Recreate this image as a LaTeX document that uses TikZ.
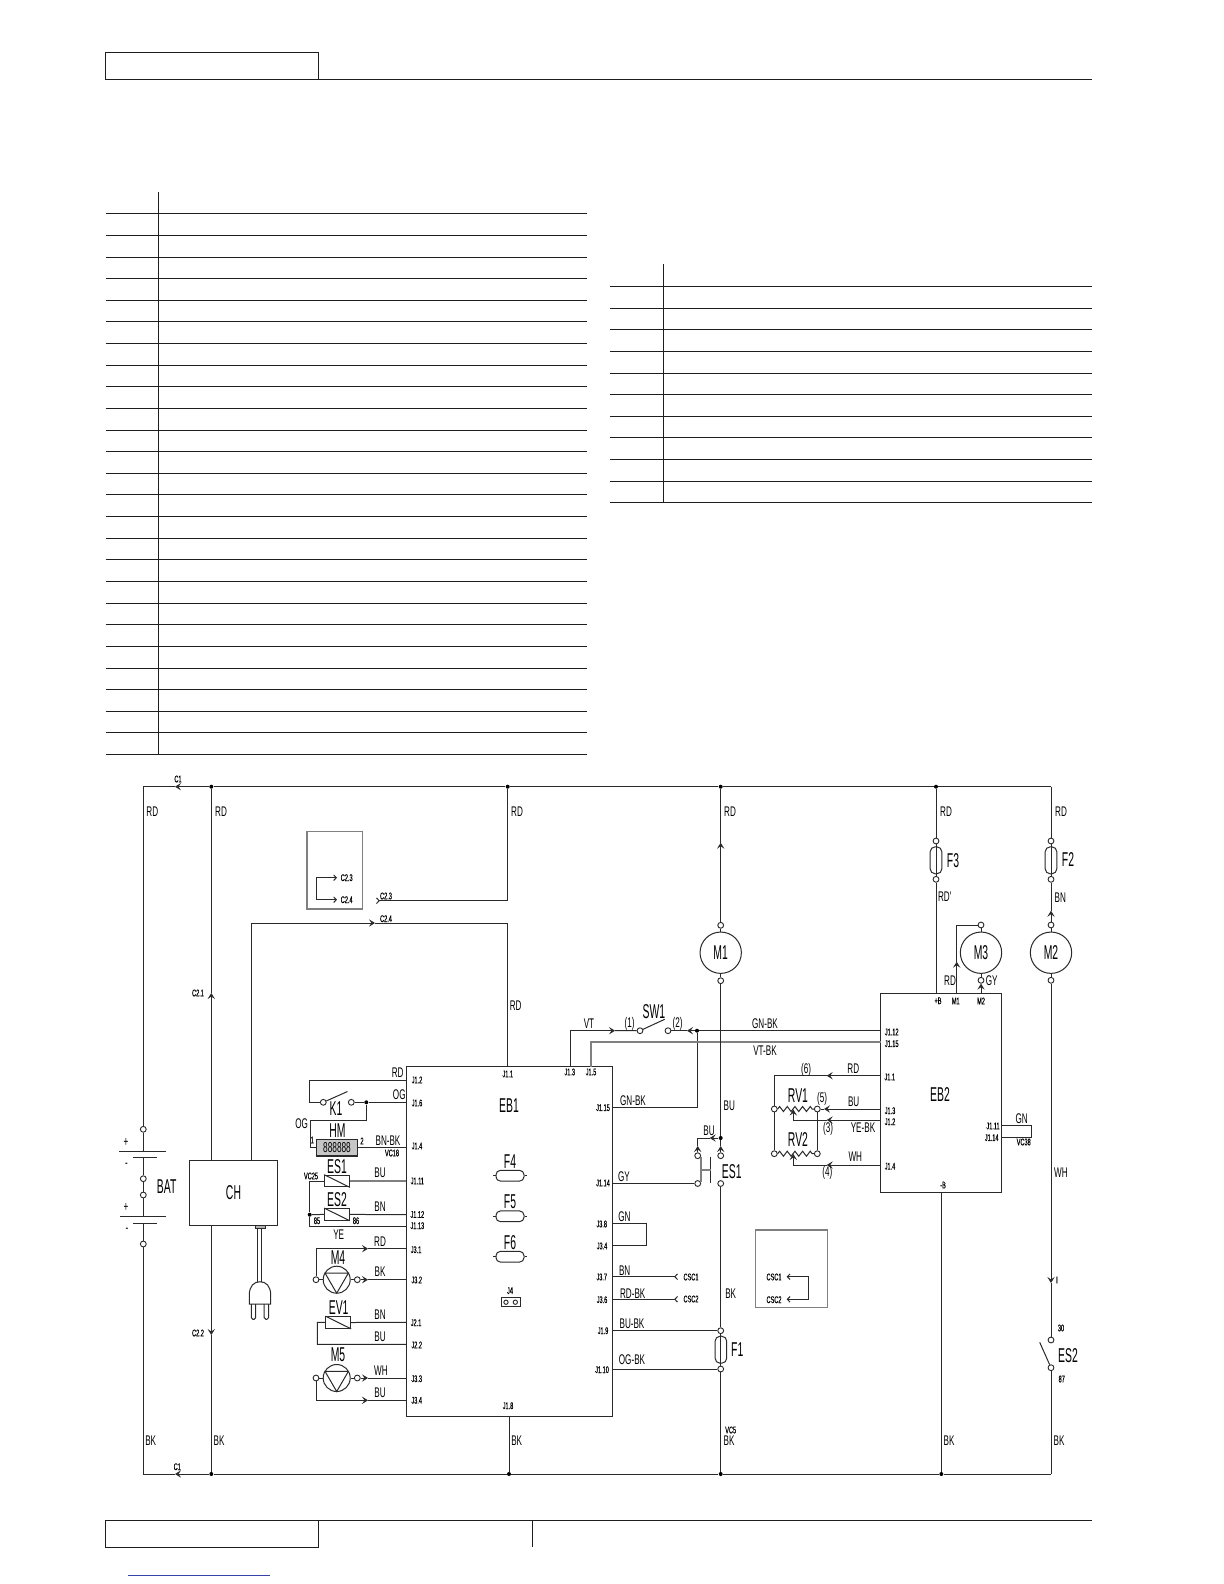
\documentclass[tikz,border=0pt]{standalone}
\usepackage{fontspec}
\newfontfamily\cadfont[FakeStretch=0.58]{Liberation Sans}
\newfontfamily\bigfont[FakeStretch=0.52]{Liberation Sans}
\newfontfamily\pinfont[FakeStretch=0.58,FakeBold=0.5]{Liberation Sans}
\usetikzlibrary{arrows.meta,shapes.misc,decorations.pathmorphing}
\definecolor{inkcol}{HTML}{1E1E1E}
\definecolor{wirecol}{HTML}{2A2A2A}
\definecolor{linkcol}{HTML}{3344AA}
\tikzset{
    rule/.style={draw=inkcol, line width=0.75pt},
    wire/.style={draw=wirecol, line width=0.6pt},
    gwire/.style={draw=gray, line width=0.8pt},
    arr/.style={-{Stealth[length=3.6pt,width=4.4pt,inset=1.5pt]}},
    oarr/.style={-{Straight Barb[length=1.6pt,width=3.4pt]}},
    rarr/.style={-{Straight Barb[reversed,length=1.6pt,width=3.4pt]}},
    term/.style={circle, draw=wirecol, fill=white, line width=0.55pt, inner sep=0pt, minimum size=3.5pt},
    junc/.style={circle, fill=black, inner sep=0pt, minimum size=2.4pt},
    lab/.style={font=\cadfont\fontsize{8.4}{9}\selectfont, inner sep=0pt},
    biglab/.style={font=\bigfont\fontsize{12}{13}\selectfont, inner sep=0pt},
    pinlab/.style={font=\pinfont\fontsize{5.8}{6}\selectfont, inner sep=0pt},
    motor/.style={circle, draw=wirecol, line width=0.6pt, inner sep=0pt, minimum size=24.8pt, biglab},
    pump/.style={circle, draw=wirecol, line width=0.6pt, inner sep=0pt, minimum size=16.2pt},
    coil/.style={rectangle, draw=wirecol, line width=0.6pt, inner sep=0pt, minimum width=14.8pt, minimum height=7pt},
    fuseh/.style={rectangle, rounded corners=2.6pt, draw=wirecol, line width=0.6pt, inner sep=0pt, minimum width=16.8pt, minimum height=6.4pt},
    fusev/.style={rectangle, rounded corners=3pt, draw=wirecol, line width=0.6pt, inner sep=0pt, minimum width=7pt, minimum height=16.2pt},
    block/.style={rectangle, draw=wirecol, line width=0.6pt, inner sep=0pt},
    inset/.style={rectangle, draw=gray, line width=0.7pt, inner sep=0pt},
    resist/.style={wire, decorate, decoration={zigzag, segment length=4.6pt, amplitude=1.5pt}}
}

\begin{document}
\begin{tikzpicture}[x=0.6pt,y=-0.6pt]
    \useasboundingbox (0,0) rectangle (1224,1584);
    \fill[white] (0,0) rectangle (1224,1584);

    % page frame and empty tables
    \draw[rule] (105.5,52.5) rectangle (318.5,79.5);
    \draw[rule] (318.5,79.5) -- (1092,79.5);
    \draw[rule] (105.5,1520.5) rectangle (318.5,1547.5);
    \draw[rule] (318.5,1520.5) -- (1092,1520.5);
    \draw[rule] (532.5,1520.5) -- (532.5,1547);
    \draw[linkcol, line width=0.6pt] (128,1575.5) -- (270,1575.5);
    \draw[rule] (158.5,192) -- (158.5,754);
    \foreach \i in {0,...,25} {
        \pgfmathsetmacro\rowy{round(213.3+21.63*\i)+0.5}
        \draw[rule] (105.5,\rowy) -- (586.7,\rowy);
    }
    \draw[rule] (663.5,264) -- (663.5,502.3);
    \foreach \i in {0,...,10} {
        \pgfmathsetmacro\rowy{round(286+21.63*\i)+0.5}
        \draw[rule] (610,\rowy) -- (1092,\rowy);
    }

    % main blocks
    \node[block, minimum width=123.6pt, minimum height=210pt] (eb1) at (509,1241.7) {};
    \node[block, minimum width=72.6pt, minimum height=119.2pt] (eb2) at (941.2,1093) {};
    \node[block, minimum width=52.6pt, minimum height=39pt, biglab] (ch) at (233.5,1192.8) {CH};
    \node[inset, minimum width=33.2pt, minimum height=46.4pt] (box1) at (334.6,870.3) {};
    \node[inset, minimum width=43pt, minimum height=46.4pt] (box2) at (791.5,1268.6) {};

    % supply rails
    \coordinate (topL) at (143.3,786.7);
    \coordinate (topR) at (1051,786.7);
    \coordinate (botL) at (143.3,1474);
    \coordinate (botR) at (1051,1474);
    \coordinate (c1top) at (175,786.7);
    \coordinate (c1bot) at (175,1474);
    \node[junc] (jt1) at (211.3,786.7) {};
    \node[junc] (jt2) at (507.7,786.7) {};
    \node[junc] (jt3) at (720.7,786.7) {};
    \node[junc] (jt4) at (936,786.7) {};
    \node[junc] (jb1) at (211.3,1474) {};
    \node[junc] (jb2) at (509,1474) {};
    \node[junc] (jb3) at (720.7,1474) {};
    \node[junc] (jb4) at (941.3,1474) {};
    \draw[wire, arr] (jt1) -- (c1top);
    \draw[wire] (c1top) -- (topL);
    \draw[wire] (jt1) -- (jt2) -- (jt3) -- (jt4) -- (topR);
    \draw[wire, arr] (jb1) -- (c1bot);
    \draw[wire] (c1bot) -- (botL);
    \draw[wire] (jb1) -- (jb2) -- (jb3) -- (jb4) -- (botR);

    % battery
    \node[term] (bat1) at (143.3,1129.3) {};
    \node[term] (bat2) at (143.3,1178.7) {};
    \node[term] (bat3) at (143.3,1195) {};
    \node[term] (bat4) at (143.3,1244) {};
    \coordinate (pl1) at (143.3,1151);
    \coordinate (ps1) at (143.3,1157.7);
    \coordinate (pl2) at (143.3,1216.3);
    \coordinate (ps2) at (143.3,1223);
    \draw[wire] (topL) -- (bat1) -- (pl1);
    \draw[wire] (ps1) -- (bat2) -- (bat3) -- (pl2);
    \draw[wire] (ps2) -- (bat4) -- (botL);
    \draw[wire] (119.3,1151) -- (165.7,1151);
    \draw[wire] (133,1157.7) -- (156.7,1157.7);
    \draw[wire] (119.8,1216.3) -- (166.2,1216.3);
    \draw[wire] (133,1223) -- (157,1223);

    % charger and plug
    \coordinate (c21) at (211.3,993);
    \coordinate (c22) at (211.3,1335);
    \coordinate (c24) at (375,923);
    \coordinate (c23) at (376,900.7);
    \coordinate (cor1) at (507.7,923);
    \coordinate (cor2) at (507.7,900.7);
    \draw[wire, arr] (c21 |- ch.north) -- (c21);
    \draw[wire] (c21) -- (jt1);
    \draw[wire, arr] (c22 |- ch.south) -- (c22);
    \draw[wire] (c22) -- (jb1);
    \draw[wire, arr] (251,1160.3) |- (c24);
    \draw[wire] (c24) -- (cor1) -- (cor1 |- eb1.north);
    \draw[wire, rarr] (jt2) -- (cor2) -- (c23);
    \draw[wire, fill=gray!60] (255.7,1225.3) rectangle (265,1228);
    \draw[wire] (257.3,1228) -- (257.3,1281.7);
    \draw[wire] (261.7,1228) -- (261.7,1281.7);
    \draw[wire] (249.3,1304) -- (249.3,1295) .. controls (249.3,1286) and (254,1281.7) .. (260,1281.7) .. controls (266,1281.7) and (270.7,1286) .. (270.7,1295) -- (270.7,1304) -- cycle;
    \draw[wire, rounded corners=1pt] (251.3,1304) -- (251.3,1319.3) -- (255.7,1319.3) -- (255.7,1304);
    \draw[wire, rounded corners=1pt] (264.2,1304) -- (264.2,1319.3) -- (268.6,1319.3) -- (268.6,1304);
    % inset one
    \coordinate (i11) at (337,877.7);
    \coordinate (i12) at (337,899.7);
    \coordinate (i1c) at (316.3,877.7);
    \coordinate (i1d) at (316.3,899.7);
    \draw[wire, oarr] (i1c) -- (i11);
    \draw[wire] (i1c) -- (i1d);
    \draw[wire, oarr] (i1d) -- (i12);

    % left side of EB1
    \node[term] (k1a) at (323.3,1102.3) {};
    \node[term] (k1b) at (351.3,1102.3) {};
    \node[junc] (k1j) at (366.3,1102.3) {};
    \coordinate (k1t) at (347.5,1091.5);
    \coordinate (k1c) at (309.3,1080.3);
    \coordinate (k1d) at (309.3,1102.3);
    \coordinate (j12) at (406,1080.3);
    \coordinate (j16) at (406,1102.3);
    \draw[wire] (j12) -- (k1c) -- (k1d) -- (k1a);
    \draw[wire] (k1a) -- (k1t);
    \draw[wire] (k1b) -- (k1j) -- (j16);
    \node[rectangle, draw=wirecol, line width=0.9pt, fill=gray!45, inner sep=0pt, minimum width=24.4pt, minimum height=9.8pt, font=\cadfont\fontsize{8.6}{9}\selectfont] (hm) at (337,1147.7) {888888};
    \coordinate (hmc) at (310,1120);
    \coordinate (hmd) at (366.3,1120);
    \draw[wire] (k1j) -- (hmd) -- (hmc) |- (hm.west);
    \draw[wire] (hm.east) -- (406,1147.7);

    \node[coil] (es1c) at (337,1181) {};
    \node[coil] (es2c) at (337,1214.4) {};
    \node[coil] (ev1c) at (338.3,1322.5) {};
    \foreach \n in {es1c,es2c,ev1c}
        \draw[wire] (\n.north west) -- (\n.south east);
    \node[junc] (es2j) at (309.7,1214.7) {};
    \coordinate (es1l) at (309.7,1181);
    \coordinate (es2l) at (309.7,1226);
    \coordinate (j113) at (406,1226);
    \draw[gwire] (es1c.east) -- (406,1181);
    \draw[wire] (es1c.west) -- (es1l) -- (es2j) -- (es2l) -- (j113);
    \draw[wire] (es2j) -- (es2c.west);
    \draw[wire] (es2c.east) -- (406,1214.7);

    \node[pump] (m4) at (336.7,1279.7) {};
    \node[pump] (m5) at (336.7,1378) {};
    \foreach \n in {m4,m5}
        \draw[wire] (\n.center) ++(-11.7,-6.7) -- ++(23.4,0) -- ++(-11.7,20.2) -- cycle;
    \node[term] (m4a) at (316,1279.7) {};
    \node[term] (m4b) at (357.3,1279.7) {};
    \node[term] (m5a) at (316,1378) {};
    \node[term] (m5b) at (357.3,1378) {};
    \coordinate (a41) at (368,1248.7);
    \coordinate (a42) at (368,1279.7);
    \coordinate (a51) at (368,1378);
    \coordinate (a52) at (368,1400.3);
    \draw[wire, arr] (m4a) |- (a41);
    \draw[wire] (a41) -- (406,1248.7);
    \draw[wire] (m4a) -- (m4) -- (m4b);
    \draw[wire, arr] (m4b) -- (a42);
    \draw[wire] (a42) -- (406,1279.7);
    \draw[wire, arr] (m5a) |- (a52);
    \draw[wire] (a52) -- (406,1400.3);
    \draw[wire] (m5a) -- (m5) -- (m5b);
    \draw[wire, arr] (m5b) -- (a51);
    \draw[wire] (a51) -- (406,1378);
    \draw[wire] (ev1c.east) -- (406,1322.3);
    \draw[wire] (ev1c.west) -- (317.3,1322.3) -- (317.3,1344.3) -- (406,1344.3);

    % parts inside EB1
    \foreach \n/\y in {f4/1175.7,f5/1216.3,f6/1256.7} {
        \node[fuseh] (\n) at (510,\y) {};
        \draw[wire] (493.3,\y) -- (\n.west);
        \draw[wire] (\n.east) -- (527,\y);
    }
    \node[rectangle, draw=wirecol, line width=0.6pt, inner sep=0pt, minimum width=11.4pt, minimum height=5.4pt] (j4box) at (510.5,1302.2) {};
    \node[term, minimum size=2.6pt] (j4a) at (506,1302.2) {};
    \node[term, minimum size=2.6pt] (j4b) at (515.3,1302.2) {};

    % SW1 and the lines to EB2
    \node[term] (sw1a) at (640,1030.7) {};
    \node[term] (sw1b) at (668,1030.7) {};
    \node[junc] (sw1j) at (697,1030.7) {};
    \coordinate (sw1t) at (664.7,1019.3);
    \coordinate (a1) at (615,1030.7);
    \coordinate (a2) at (687,1030.7);
    \draw[wire, arr] (570.3,1066.7) |- (a1);
    \draw[wire] (a1) -- (sw1a) -- (sw1t);
    \draw[wire, arr] (sw1j) -- (a2);
    \draw[wire] (a2) -- (sw1b);
    \draw[wire] (sw1j) -- (880.7,1030.7);
    \draw[wire] (612,1107) -| (sw1j);
    \draw[gwire] (591,1066.7) |- (880.7,1042);

    % M1 branch
    \node[motor] (m1) at (720.7,952.7) {M1};
    \node[term] (m1a) at (720.7,925.3) {};
    \node[term] (m1b) at (720.7,980.7) {};
    \node[junc] (es1j) at (720.7,1138) {};
    \coordinate (m1arr) at (720.7,842.7);
    \draw[wire, arr] (m1a) -- (m1arr);
    \draw[wire] (m1arr) -- (jt3);
    \draw[wire] (m1a) -- (m1) -- (m1b) -- (es1j);
    \node[term] (es1a) at (697.7,1155.7) {};
    \node[term] (es1b) at (720.7,1155.7) {};
    \node[term] (es1e) at (697.7,1183.5) {};
    \node[term] (es1d) at (720.7,1183.5) {};
    \coordinate (es1t) at (709.7,1138);
    \coordinate (es1u) at (697.7,1146);
    \coordinate (es1v) at (720.7,1146);
    \draw[wire, arr] (es1j) -- (es1t);
    \draw[wire] (es1t) -- (697.7,1138);
    \draw[wire, arr] (es1a) -- (es1u);
    \draw[wire] (es1u) -- (697.7,1138);
    \draw[wire, arr] (es1b) -- (es1v);
    \draw[wire] (es1v) -- (es1j);
    \draw[wire] (710.7,1156.7) -- (710.7,1183);
    \draw[gwire] (701,1157) -- (701,1182);
    \draw[gwire] (701,1170) -- (710.7,1170);
    \draw[wire] (612,1183.5) -- (es1e);
    \node[term] (f1a) at (720.7,1330.7) {};
    \node[term] (f1b) at (720.7,1369) {};
    \node[fusev] (f1) at (720.9,1349.7) {};
    \draw[wire] (es1d) -- (f1a) -- (f1b) -- (jb3);
    \draw[wire] (612,1330.7) -- (f1a);
    \draw[wire] (612,1369) -- (f1b);

    % right side of EB1
    \draw[wire] (612,1223.3) -- (646.3,1223.3) -- (646.3,1245.7) -- (612,1245.7);
    \coordinate (csc1) at (678,1276.7);
    \coordinate (csc2) at (678,1299.3);
    \draw[wire, rarr] (612,1276.7) -- (csc1);
    \draw[wire, rarr] (612,1299.3) -- (csc2);
    \coordinate (i2c) at (808.7,1276.7);
    \coordinate (i2d) at (808.7,1299.3);
    \coordinate (i21) at (786.7,1276.7);
    \coordinate (i22) at (786.7,1299.3);
    \draw[wire, oarr] (i2c) -- (i21);
    \draw[wire] (i2c) -- (i2d);
    \draw[wire, oarr] (i2d) -- (i22);
    \draw[wire] (eb1.south -| jb2) -- (jb2);

    % F3, M3
    \node[term] (f3a) at (936,841) {};
    \node[term] (f3b) at (936,879.3) {};
    \node[fusev] (f3) at (936,860.3) {};
    \draw[wire] (jt4) -- (f3a) -- (f3b) -- (f3b |- eb2.north);
    \node[motor] (m3) at (981,952.7) {M3};
    \node[term] (m3a) at (981,925) {};
    \node[term] (m3b) at (981,980.3) {};
    \coordinate (m3arr) at (956.7,961.7);
    \coordinate (m3cor) at (956.7,925);
    \draw[wire, arr] (m3arr |- eb2.north) -- (m3arr);
    \draw[wire] (m3arr) -- (m3cor) -- (m3a) -- (m3) -- (m3b);
    \draw[wire, arr] (m3b |- eb2.north) -- (m3b);

    % F2, M2, ES2
    \node[term] (f2a) at (1051,841) {};
    \node[term] (f2b) at (1051,879.3) {};
    \node[fusev] (f2) at (1051,860.3) {};
    \node[motor] (m2) at (1051,952.7) {M2};
    \node[term] (m2a) at (1051,925) {};
    \node[term] (m2b) at (1051,980.3) {};
    \node[term] (es2a) at (1051,1340) {};
    \node[term] (es2b) at (1051,1367.7) {};
    \coordinate (m2arr) at (1051,910.7);
    \coordinate (es2arr) at (1051,1283);
    \coordinate (es2t) at (1039.7,1342.3);
    \draw[wire] (topR) -- (f2a) -- (f2b) -- (m2arr);
    \draw[wire, arr] (m2a) -- (m2arr);
    \draw[wire] (m2a) -- (m2) -- (m2b);
    \draw[wire, arr] (m2b) -- (es2arr);
    \draw[wire] (es2arr) -- (es2a);
    \draw[wire] (es2b) -- (es2t);
    \draw[wire] (es2b) -- (botR);
    \draw[wire] (eb2.south -| jb4) -- (jb4);

    % EB2 loop and RV1, RV2
    \draw[wire] (1001.7,1125.7) -- (1031.7,1125.7) -- (1031.7,1137) -- (1001.7,1137);
    \node[term] (rv1a) at (774.3,1109) {};
    \node[term] (rv1b) at (817.3,1109) {};
    \node[term] (rv2a) at (774.3,1153.7) {};
    \node[term] (rv2b) at (817.3,1153.7) {};
    \draw[resist] (rv1a) -- (rv1b);
    \draw[resist] (rv2a) -- (rv2b);
    \draw[wire] (rv1a) -- (rv2a);
    \draw[wire] (rv1b) -- (rv2b);
    \coordinate (a11) at (826.7,1075.7);
    \coordinate (a13) at (824,1109);
    \coordinate (a12) at (826.7,1120);
    \coordinate (a14) at (826.7,1165);
    \coordinate (rvc) at (774.3,1075.7);
    \coordinate (w1) at (793.3,1109.5);
    \coordinate (w2) at (793.3,1154);
    \draw[wire, arr] (880.7,1075.7) -- (a11);
    \draw[wire] (a11) -- (rvc) -- (rv1a);
    \draw[wire, arr] (880.7,1109) -- (a13);
    \draw[wire] (a13) -- (rv1b);
    \draw[wire, arr] (880.7,1120) -- (a12);
    \draw[wire, arr] (a12) -| (w1);
    \draw[wire, arr] (880.7,1165) -- (a14);
    \draw[wire, arr] (a14) -| (w2);

    % wire labels
    \foreach \t/\x/\y [count=\i] in {RD/152.3/811.7,RD/221/811.7,RD/517/811.7,RD/730/812,RD/946/812,RD/1061/812,
        RD'/944.7/896.7,BN/1060.3/897.7,RD/515.7/1006,RD/950/980.7,GY/991.7/980.7,VT/589/1024,(1)/629.7/1024,
        (2)/677.7/1024,GN-BK/765/1024,VT-BK/765/1051,RD/397.7/1072.7,OG/399.3/1094.3,OG/301.7/1124,
        BN-BK/388/1140.7,BU/380/1173,BN/380/1207,YE/338.7/1235,RD/380/1242,BK/380/1272,BN/380/1315,BU/380/1337,
        WH/381/1371,BU/380/1393,GN-BK/633/1101,BU/729.3/1106,BU/709/1130.7,GY/624/1177,GN/624.5/1217,
        BN/624.7/1271,RD-BK/632.7/1294,BK/730.7/1294,BU-BK/632/1324,OG-BK/632/1360,BK/150.7/1441,BK/219/1441,
        BK/516.7/1441,BK/729/1441,BK/949/1441,BK/1059/1441,(6)/806/1069.7,RD/853.3/1069,(5)/822/1099,
        BU/853.7/1102,(3)/828/1129,YE-BK/863/1128,(4)/827.3/1173,WH/855.3/1157,GN/1021.7/1119,WH/1061/1172.3,
        +/126/1142,-/126.5/1165,+/126/1207,-/127/1230}
        \node[lab] (wl\i) at (\x,\y) {\t};
    % part names
    \foreach \t/\x/\y [count=\i] in {BAT/166.7/1186.7,K1/336/1108.3,HM/337.5/1131,ES1/337/1167,ES2/337/1199.7,
        M4/338/1258,EV1/338.7/1308,M5/338/1355,EB1/509/1106,F4/510/1161.3,F5/510/1202,F6/510/1242.7,SW1/654/1012,
        ES1/731.7/1171.7,F1/737.3/1350,F3/953/860.7,F2/1068/860,ES2/1068/1355.7,RV1/798/1095.7,RV2/798/1139.7,
        EB2/940/1095}
        \node[biglab] (pn\i) at (\x,\y) {\t};
    % pin names
    \foreach \t/\x/\y [count=\i] in {C1/178/779,C1/177.3/1466.7,C2.1/198/993,C2.2/198/1333,C2.3/346.7/877.7,
        C2.4/346.7/899.7,C2.3/386/896,C2.4/386/918.7,J1.2/417/1080,J1.6/417/1103,J1.4/417/1146,J1.11/417.3/1181,
        J1.12/417.3/1214.5,J1.13/417.3/1225.7,J3.1/416/1249.7,J3.2/416.7/1280,J2.1/416/1322.7,J2.2/416.7/1345,
        J3.3/416.7/1378.7,J3.4/416.7/1400.3,J1.1/507.7/1074,J1.3/569.7/1072,J1.5/591/1072,J1.8/508/1405.7,
        J1.15/603/1107.7,J1.14/603/1183,J3.8/601.7/1224,J3.4/602/1246,J3.7/601.7/1277,J3.6/602/1299.7,
        J1.9/603/1330.7,J1.10/602/1369.7,CSC1/691/1277,CSC2/691/1299,CSC1/774/1277,CSC2/774/1299.7,J4/510/1290.7,
        VC18/392/1153,VC25/311/1176,VC38/1023.7/1142,VC5/730.7/1430,1/312.3/1140,2/362/1141,85/317/1220.7,
        86/356/1220.7,I/1057/1280,30/1061/1328,87/1061.7/1379,+B/938/1000.7,M1/955.7/1001,M2/981/1001,
        J1.12/891.7/1032,J1.15/891.7/1043.7,J1.1/889.7/1077,J1.3/890/1110.7,J1.2/890/1121.7,J1.4/890/1166.3,
        -B/943/1185,J1.11/993/1126,J1.14/991.7/1137.7}
        \node[pinlab] (pin\i) at (\x,\y) {\t};
\end{tikzpicture}
\end{document}
